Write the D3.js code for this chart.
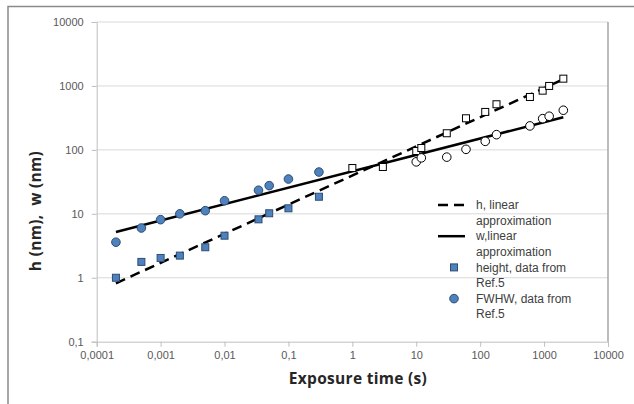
<!DOCTYPE html>
<html>
<head>
<meta charset="utf-8">
<script src="https://cdn.jsdelivr.net/npm/d3@7"></script>
<style>
  body { margin: 0; background: #fff; }
  svg { display: block; }
  .tick text { font-family: "Liberation Sans", Arial, sans-serif; font-size: 11px; fill: #595959; }
  .legend-text { font-family: "Liberation Sans", Arial, sans-serif; font-size: 12px; fill: #404040; }
  .axis-label { font-family: "Open Sans", sans-serif; font-weight: bold; font-size: 15.5px; letter-spacing: 0.3px; fill: #262626; }
</style>
</head>
<body>
<div id="chart"></div>
<script>
// data
// blue points (Ref.5)
const refTime = [0.0002, 0.0005, 0.001, 0.002, 0.005, 0.01, 0.034, 0.05, 0.1, 0.3];
const refHeight = [1.0, 1.77, 2.04, 2.22, 3.0, 4.55, 8.2, 10.2, 12.2, 18.5];
const refFwhw = [3.6, 6.0, 8.1, 10.0, 11.2, 16.0, 23.4, 27.6, 35, 45];

// open points (longer exposures)
const hTime = [1, 3, 10, 12, 30, 60, 120, 180, 600, 950, 1200, 2000];
const hValues = [52, 54, 96, 107, 182, 312, 392, 517, 672, 844, 1000, 1300];
const wTime = [10, 12, 30, 60, 120, 180, 600, 950, 1200, 2000];
const wValues = [65, 75, 77, 102, 136, 173, 237, 308, 336, 417];

// linear approximations (ends of the lines in log-log)
const hLine = [[0.0002, 0.82], [2000, 1270]];
const wLine = [[0.0002, 5.2], [2000, 324]];

// axis ticks
const xTicks = [0.0001, 0.001, 0.01, 0.1, 1, 10, 100, 1000, 10000];
const yTicks = [0.1, 1, 10, 100, 1000, 10000];

const legendItems = [
    { type: "dash", lines: ["h, linear", "approximation"] },
    { type: "solid", lines: ["w,linear", "approximation"] },
    { type: "square", lines: ["height, data from", "Ref.5"] },
    { type: "circle", lines: ["FWHW, data from", "Ref.5"] }
];

// 1: SET GLOBAL VARIABLES
const W = 634, H = 404;
const margin = { top: 22, right: 26, bottom: 62.3, left: 96.7 };
const width = W - margin.left - margin.right;
const height = H - margin.top - margin.bottom;

const blue = "#4F81BD";
const blueStroke = "#2C4D75";

const svgRoot = d3.select("#chart")
    .append("svg")
    .attr("width", W)
    .attr("height", H);

// outer chart border
svgRoot.append("rect")
    .attr("x", 8)
    .attr("y", 6.5)
    .attr("width", W + 10)
    .attr("height", H + 10)
    .attr("fill", "none")
    .attr("stroke", "#8a8a8a")
    .attr("stroke-width", 1.5);

const svg = svgRoot.append("g")
    .attr("transform", `translate(${margin.left},${margin.top})`);

// 2: SCALES
const xScale = d3.scaleLog().domain([0.0001, 10000]).range([0, width]);
const yScale = d3.scaleLog().domain([0.1, 10000]).range([height, 0]);

const fmt = d => String(d).replace(".", ",");

// gridlines
svg.append("g")
    .selectAll("line")
    .data(yTicks.slice(1))
    .join("line")
    .attr("x1", 0)
    .attr("x2", width)
    .attr("y1", d => yScale(d))
    .attr("y2", d => yScale(d))
    .attr("stroke", "#d9d9d9")
    .attr("stroke-width", 1);

// right border of plot area
svg.append("line")
    .attr("x1", width).attr("x2", width)
    .attr("y1", 0).attr("y2", height)
    .attr("stroke", "#a6a6a6")
    .attr("stroke-width", 1.5);

// 3: AXES
const xAxis = svg.append("g")
    .attr("transform", `translate(0,${height})`)
    .call(d3.axisBottom(xScale).tickValues(xTicks).tickFormat(fmt).tickSize(5).tickPadding(5));

const yAxis = svg.append("g")
    .call(d3.axisLeft(yScale).tickValues(yTicks).tickFormat(fmt).tickSize(5).tickPadding(8));

[xAxis, yAxis].forEach(a => {
    a.select(".domain").attr("stroke", "#bfbfbf").attr("stroke-width", 1);
    a.selectAll(".tick line").attr("stroke", "#bfbfbf");
});
yAxis.selectAll(".tick text").attr("dy", "0.35em");

// 4: LINES
const line = d3.line()
    .x(d => xScale(d[0]))
    .y(d => yScale(d[1]));

svg.append("path")
    .datum(wLine)
    .attr("fill", "none")
    .attr("stroke", "#000")
    .attr("stroke-width", 2.5)
    .attr("d", line);

svg.append("path")
    .datum(hLine)
    .attr("fill", "none")
    .attr("stroke", "#000")
    .attr("stroke-width", 2.5)
    .attr("stroke-dasharray", "10,6")
    .attr("d", line);

// 5: POINTS
const sq = 7, r = 4.3;

function squares(times, values, fill, stroke) {
    svg.append("g")
        .selectAll("rect")
        .data(times.map((t, i) => [t, values[i]]))
        .join("rect")
        .attr("x", d => xScale(d[0]) - sq / 2)
        .attr("y", d => yScale(d[1]) - sq / 2)
        .attr("width", sq)
        .attr("height", sq)
        .attr("fill", fill)
        .attr("stroke", stroke)
        .attr("stroke-width", 1);
}

function circles(times, values, fill, stroke) {
    svg.append("g")
        .selectAll("circle")
        .data(times.map((t, i) => [t, values[i]]))
        .join("circle")
        .attr("cx", d => xScale(d[0]))
        .attr("cy", d => yScale(d[1]))
        .attr("r", r)
        .attr("fill", fill)
        .attr("stroke", stroke)
        .attr("stroke-width", 1);
}

squares(refTime, refHeight, blue, blueStroke);
circles(refTime, refFwhw, blue, blueStroke);
squares(hTime, hValues, "#fff", "#000");
circles(wTime, wValues, "#fff", "#000");

// 6: AXIS LABELS
svgRoot.append("text")
    .attr("class", "axis-label")
    .attr("x", 358)
    .attr("y", 384)
    .attr("text-anchor", "middle")
    .text("Exposure time (s)");

svgRoot.append("text")
    .attr("class", "axis-label")
    .attr("transform", "translate(41,211) rotate(-90)")
    .attr("text-anchor", "middle")
    .attr("xml:space", "preserve")
    .style("white-space", "pre")
    .text("h (nm),  w (nm)");

// 7: LEGEND
const legend = svgRoot.append("g")
    .attr("class", "legend")
    .attr("transform", "translate(438,205)");

const lh = 15.6;
legendItems.forEach((item, i) => {
    const row = legend.append("g")
        .attr("transform", `translate(0, ${i * 2 * lh})`);

    if (item.type === "dash" || item.type === "solid") {
        row.append("line")
            .attr("x1", 0).attr("x2", 27)
            .attr("y1", 0).attr("y2", 0)
            .attr("stroke", "#000")
            .attr("stroke-width", 2.5)
            .attr("stroke-dasharray", item.type === "dash" ? "10,6" : null);
    } else if (item.type === "square") {
        row.append("rect")
            .attr("x", 16 - sq / 2).attr("y", -sq / 2)
            .attr("width", sq).attr("height", sq)
            .attr("fill", blue).attr("stroke", blueStroke);
    } else {
        row.append("circle")
            .attr("cx", 16).attr("cy", 0).attr("r", r)
            .attr("fill", blue).attr("stroke", blueStroke);
    }

    item.lines.forEach((t, j) => {
        row.append("text")
            .attr("class", "legend-text")
            .attr("x", 38)
            .attr("y", j * lh)
            .attr("dy", "0.35em")
            .text(t);
    });
});
</script>
</body>
</html>
